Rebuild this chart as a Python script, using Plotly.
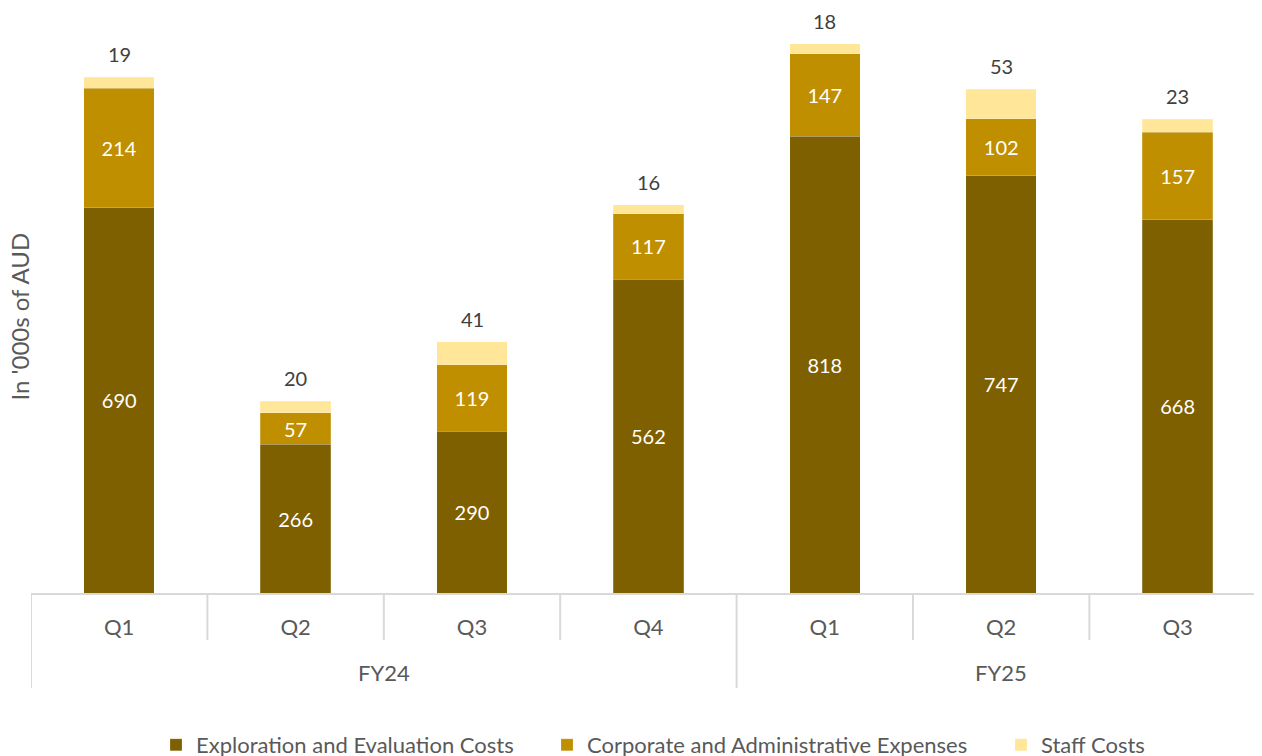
import plotly.graph_objects as go

years = ["FY24", "FY24", "FY24", "FY24", "FY25", "FY25", "FY25"]
quarters = ["Q1", "Q2", "Q3", "Q4", "Q1", "Q2", "Q3"]
exploration = [690, 266, 290, 562, 818, 747, 668]
corporate = [214, 57, 119, 117, 147, 102, 157]
staff = [19, 20, 41, 16, 18, 53, 23]
y_title = "In '000s of AUD"

FONT = "Lato"
GRAY = "#595959"
LINE = "#D9D9D9"

cats = [f"{y} {q}" for y, q in zip(years, quarters)]
n = len(cats)

fig = go.Figure()
series = [
    ("Exploration and Evaluation Costs", exploration, "#7F6000", True, "legend"),
    ("Corporate and Administrative Expenses", corporate, "#BF8F00", True, "legend2"),
    ("Staff Costs", staff, "#FFE699", False, "legend3"),
]
for name, vals, color, inside, leg in series:
    fig.add_trace(go.Bar(
        x=cats, y=vals, name=name, legend=leg,
        marker=dict(color=color, line=dict(color="rgba(255,255,255,0.35)", width=0.6)),
        text=vals if inside else None, textposition="inside" if inside else "none",
        insidetextanchor="middle",
        textfont=dict(color="white", size=20, family=FONT),
        cliponaxis=False, textangle=0, constraintext="none",
    ))

PH = 553.0  # plot area height in px
PW = 1231.0  # plot area width in px
CAT_PX = 176.4  # width of one category in px
inner_len = 47 / PH
outer_len = 95 / PH

shapes = []
bounds = [-0.5]
for i in range(1, n):
    if years[i] != years[i - 1]:
        bounds.append(i - 0.5)
bounds.append(n - 0.5)
for i in range(n + 1):
    xb = i - 0.5
    length = outer_len if xb in bounds else inner_len
    shapes.append(dict(type="line", xref="x", yref="paper", x0=xb, x1=xb, y0=0, y1=-length,
                       line=dict(color=LINE, width=2)))

annotations = []
totals = [e + c + s for e, c, s in zip(exploration, corporate, staff)]
for c, t, s in zip(cats, totals, staff):
    annotations.append(dict(x=c, xref="x", y=t, yref="y", text=str(s), showarrow=False,
                            yanchor="bottom", yshift=9,
                            font=dict(size=20, color="#404040", family=FONT)))
start = 0
for i in range(1, n + 1):
    if i == n or years[i] != years[start]:
        annotations.append(dict(x=(start + i - 1) / 2, xref="x", y=-79 / PH, yref="paper",
                                text=years[start], showarrow=False, yanchor="middle",
                                font=dict(size=22, color=GRAY, family=FONT)))
        start = i
annotations.append(dict(x=-12 / PW, xref="paper", y=0.5, yref="paper", text=y_title,
                        textangle=-90, showarrow=False, xanchor="center", yanchor="middle",
                        font=dict(size=24, color=GRAY, family=FONT)))

legend_common = dict(orientation="h", yanchor="middle", y=-152 / PH, xanchor="left",
                     font=dict(size=22, color=GRAY, family=FONT), bgcolor="rgba(0,0,0,0)")

fig.update_layout(
    barmode="stack",
    bargap=0.6,
    width=1254, height=748,
    margin=dict(l=23, r=0, t=32, b=163, autoexpand=False),
    plot_bgcolor="white", paper_bgcolor="white",
    font=dict(family=FONT, color=GRAY, size=22),
    showlegend=True,
    legend=dict(x=(156 - 31) / PW, **legend_common),
    legend2=dict(x=(547 - 31) / PW, **legend_common),
    legend3=dict(x=(1001 - 31) / PW, **legend_common),
    xaxis=dict(type="category", showline=True, linecolor=LINE, linewidth=2,
               tickmode="array", tickvals=cats, ticktext=quarters, ticks="",
               ticklabelstandoff=14, automargin=False,
               tickfont=dict(size=22, color=GRAY, family=FONT), showgrid=False,
               range=[-0.5, -0.5 + PW / CAT_PX]),
    yaxis=dict(range=[0, 990], showticklabels=False, showgrid=False, zeroline=False,
               showline=False, automargin=False),
    shapes=shapes,
    annotations=annotations,
)

fig.write_html("out.html")
